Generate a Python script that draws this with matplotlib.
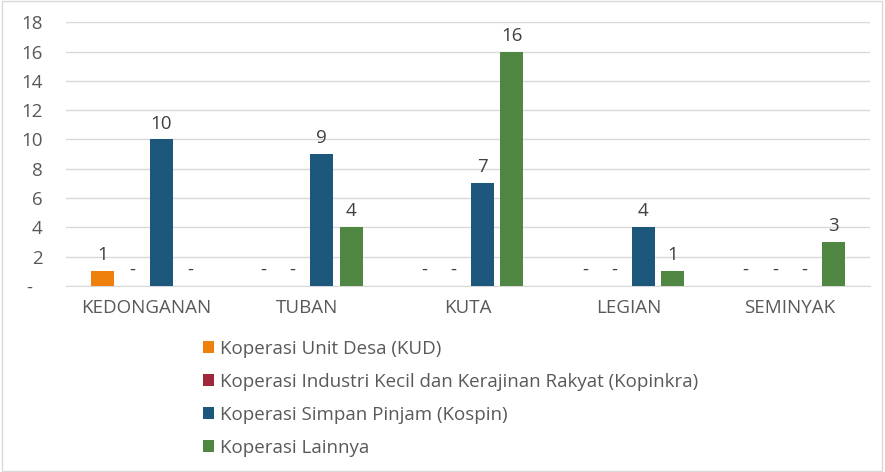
import matplotlib.pyplot as plt
import numpy as np
from matplotlib.patches import Patch, Rectangle

# -----------------------------------------------------------------------------
# Data
categories = ["KEDONGANAN", "TUBAN", "KUTA", "LEGIAN", "SEMINYAK"]
series_names = ["Koperasi Unit Desa (KUD)",
                "Koperasi Industri Kecil dan Kerajinan Rakyat (Kopinkra)",
                "Koperasi Simpan Pinjam (Kospin)",
                "Koperasi Lainnya"]
kud = [1, 0, 0, 0, 0]
kopinkra = [0, 0, 0, 0, 0]
kospin = [10, 9, 7, 4, 0]
lainnya = [0, 4, 16, 1, 3]
series_values = [kud, kopinkra, kospin, lainnya]
colours = ["#F0800C", "#A0283C", "#1D577B", "#4E8642"]
yticks = [0, 2, 4, 6, 8, 10, 12, 14, 16, 18]
ytick_labels = ["-  "] + [str(v) for v in yticks[1:]]

# -----------------------------------------------------------------------------
# Graph Drawing
plt.rcParams['font.family'] = ['Open Sans', 'DejaVu Sans']
text_col = "#595959"
grid_col = "#D9D9D9"
fs = 13.5

fig = plt.figure(figsize=(8.85, 4.72), dpi=100)
ax = fig.add_axes([0.0746, 0.394, 0.9084, 0.559])

x = np.arange(len(categories))
step = 0.182
width = 0.143
for i in range(len(series_values)):
	vals = series_values[i]
	offs = (i - 1.5) * step
	bars = ax.bar(x + offs, vals, width, color=colours[i], zorder=3, label=series_names[i])
	ax.bar_label(bars, labels=["-" if v == 0 else str(v) for v in vals],
	             padding=5, fontsize=fs, color="#404040")

ax.set_xlim(-0.5, len(categories) - 0.5)
ax.set_ylim(0, 18)
ax.set_yticks(yticks)
ax.set_yticklabels(ytick_labels)
ax.set_xticks(x)
ax.set_xticklabels(categories)
ax.tick_params(axis='both', length=0, labelsize=fs, colors=text_col)
ax.tick_params(axis='x', pad=9)
ax.tick_params(axis='y', pad=17)
for lbl in ax.get_yticklabels():
	lbl.set_horizontalalignment('right')

ax.grid(axis='y', color=grid_col, linewidth=1, zorder=0)
for s in ['top', 'right', 'left']:
	ax.spines[s].set_visible(False)
ax.spines['bottom'].set_color(grid_col)

handles = [Patch(facecolor=c) for c in colours]
fig.legend(handles, series_names, loc='upper left', bbox_to_anchor=(0.229, 0.28),
           frameon=False, fontsize=fs, labelcolor=text_col, handlelength=0.6,
           handleheight=0.6, handletextpad=0.3, labelspacing=0.8, borderpad=0, borderaxespad=0)

fig.add_artist(Rectangle((0.002, 0.003), 0.995, 0.994, transform=fig.transFigure,
                         fill=False, edgecolor=grid_col, linewidth=1))

fig.savefig("out.png", dpi=100)
